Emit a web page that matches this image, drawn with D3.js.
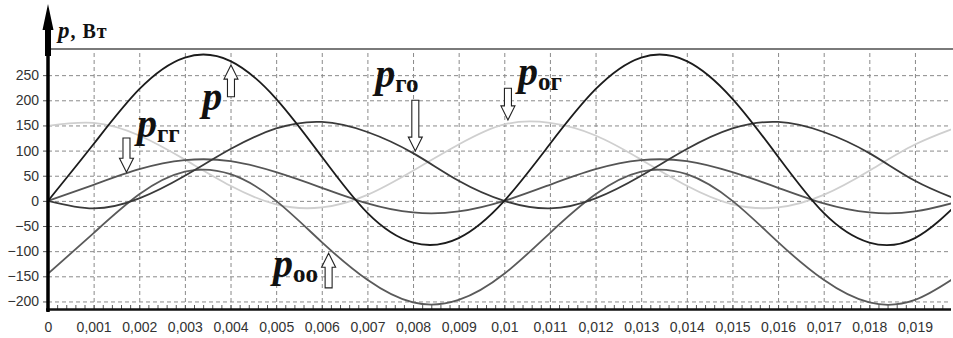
<!DOCTYPE html>
<html lang="ru">
<head>
<meta charset="UTF-8">
<title>p, Вт</title>
<script src="https://d3js.org/d3.v7.min.js"></script>
<style>
    body { margin: 0; background: #fff; }
    .grid line { stroke: #8a8a8a; stroke-width: 1; stroke-dasharray: 4,3; }
    .grid path { display: none; }
    .axis text { font-family: "Liberation Sans", Arial, sans-serif; font-size: 14px; fill: #333; }
    .axis path { display: none; }
    .axis line { stroke: #555; }
    .curve { fill: none; stroke-width: 1.8; }
    .ann { font-family: "Liberation Serif", "Times New Roman", serif; font-weight: bold; fill: #111; }
    .arrow { fill: #fff; stroke: #222; stroke-width: 1.1; }
</style>
</head>
<body>
<svg id="chart" width="953" height="338"></svg>
<script>
// time points, s
const times = [0, 0.001, 0.002, 0.003, 0.004, 0.005, 0.006, 0.007, 0.008, 0.009, 0.010,
               0.011, 0.012, 0.013, 0.014, 0.015, 0.016, 0.017, 0.018, 0.019, 0.020];

// power curves, W
const pVals   = [0, 113, 222, 285, 278, 203, 88, -24, -83, -74, 0, 113, 222, 285, 278, 203, 88, -24, -83, -74, 0];
const pGoVals = [0, -15, 5, 50, 103, 144, 157, 137, 95, 40, 0, -15, 5, 50, 103, 144, 157, 137, 95, 40, 0];
const pGgVals = [0, 32, 63, 81, 79, 57, 26, -5, -23, -21, 0, 32, 63, 81, 79, 57, 26, -5, -23, -21, 0];
const pOgVals = [149, 155, 130, 82, 30, -7, -13, 12, 60, 112, 152, 155, 130, 82, 30, -7, -13, 12, 60, 112, 149];
const pOoVals = [-145, -64, 13, 58, 53, 0, -82, -157, -202, -197, -145, -64, 13, 58, 53, 0, -82, -157, -202, -197, -145];

// axis ticks
const xTicks = [0, 0.001, 0.002, 0.003, 0.004, 0.005, 0.006, 0.007, 0.008, 0.009, 0.010,
                0.011, 0.012, 0.013, 0.014, 0.015, 0.016, 0.017, 0.018, 0.019];
const xTickLabels = ["0", "0,001", "0,002", "0,003", "0,004", "0,005", "0,006", "0,007", "0,008", "0,009", "0,01",
                     "0,011", "0,012", "0,013", "0,014", "0,015", "0,016", "0,017", "0,018", "0,019"];
const yTicks = [-200, -150, -100, -50, 0, 50, 100, 150, 200, 250];

// labels with arrows: text anchor and arrow (t, value)
const annotations = [
    {base: "p", sub: "",   tx: 0.00338, ty: 181, ax: 0.00401, tip: 270,  tail: 207},
    {base: "p", sub: "гг", tx: 0.00195, ty: 127, ax: 0.00172, tip: 57,   tail: 125},
    {base: "p", sub: "го", tx: 0.00717, ty: 226, ax: 0.00805, tip: 99,   tail: 200},
    {base: "p", sub: "ог", tx: 0.01030, ty: 230, ax: 0.01008, tip: 161,  tail: 224},
    {base: "p", sub: "оо", tx: 0.00493, ty: -151, ax: 0.00615, tip: -104, tail: -173}
];

const svg = d3.select("#chart");
const mLeft = 48, mRight = 951, mTop = 49, mBottom = 309;

const x = d3.scaleLinear().domain([0, 0.01979]).range([mLeft, mRight]);
const y = d3.scaleLinear().domain([-215, 302]).range([mBottom, mTop]);

svg.append("defs").append("clipPath").attr("id", "plotClip")
    .append("rect").attr("x", mLeft).attr("y", mTop).attr("width", mRight - mLeft).attr("height", mBottom - mTop);

// grid
svg.append("g").attr("class", "grid")
    .attr("transform", `translate(0,${mBottom})`)
    .call(d3.axisBottom(x).tickValues(xTicks.slice(1)).tickSize(-(mBottom - mTop)).tickFormat(""));
svg.append("g").attr("class", "grid")
    .attr("transform", `translate(${mLeft},0)`)
    .call(d3.axisLeft(y).tickValues(yTicks).tickSize(-(mRight - mLeft)).tickFormat(""));

// top border
svg.append("line").attr("x1", mLeft).attr("x2", 953).attr("y1", mTop).attr("y2", mTop)
    .attr("stroke", "#7a7a7a").attr("stroke-width", 2);

// curves
const series = [
    {vals: pOgVals, color: "#cfcfcf", w: 1.6},
    {vals: pOoVals, color: "#5a5a5a", w: 1.6},
    {vals: pGgVals, color: "#555555", w: 1.6},
    {vals: pGoVals, color: "#3a3a3a", w: 1.8},
    {vals: pVals,   color: "#1c1c1c", w: 1.8}
];
const line = d3.line().x(d => x(d[0])).y(d => y(d[1])).curve(d3.curveNatural);
const plot = svg.append("g").attr("clip-path", "url(#plotClip)");
series.forEach(s => {
    plot.append("path")
        .attr("class", "curve")
        .attr("stroke", s.color)
        .attr("stroke-width", s.w)
        .attr("d", line(times.map((t, i) => [t, s.vals[i]])));
});

// x axis: minor ticks, line, labels
svg.append("g").attr("class", "axis")
    .attr("transform", `translate(0,${mBottom})`)
    .call(d3.axisBottom(x).tickValues(d3.range(0, 0.0198, 0.0002)).tickSize(-4).tickFormat(""));
svg.append("line").attr("x1", mLeft - 2).attr("x2", mRight).attr("y1", mBottom + 0.5).attr("y2", mBottom + 0.5)
    .attr("stroke", "#111").attr("stroke-width", 2.5);
svg.append("g").attr("class", "axis")
    .attr("transform", `translate(0,${mBottom})`)
    .call(d3.axisBottom(x).tickValues(xTicks).tickSize(0).tickPadding(13)
        .tickFormat((d, i) => xTickLabels[i]));

// y axis
svg.append("g").attr("class", "axis")
    .attr("transform", `translate(${mLeft},0)`)
    .call(d3.axisLeft(y).tickValues(yTicks).tickSize(5).tickPadding(4));
svg.append("line").attr("x1", mLeft).attr("x2", mLeft).attr("y1", 40).attr("y2", mBottom + 3)
    .attr("stroke", "#000").attr("stroke-width", 3.5);
svg.append("path")
    .attr("d", `M${mLeft},4 L${mLeft - 5.5},30 L${mLeft - 3},30 L${mLeft - 3},56 L${mLeft + 3},56 L${mLeft + 3},30 L${mLeft + 5.5},30 Z`)
    .attr("fill", "#000");

// axis title
const title = svg.append("text").attr("class", "ann").attr("x", 58).attr("y", 38).attr("letter-spacing", 1);
title.append("tspan").attr("font-style", "italic").attr("font-size", 23).text("p");
title.append("tspan").attr("font-size", 20).text(", Вт");

// annotations
function arrowPath(cx, yTip, yTail) {
    const dir = yTail > yTip ? 1 : -1;
    const head = 14, hw = 7, sw = 3.5;
    const yb = yTip + dir * head;
    return `M${cx},${yTip} L${cx + hw},${yb} L${cx + sw},${yb} L${cx + sw},${yTail} ` +
           `L${cx - sw},${yTail} L${cx - sw},${yb} L${cx - hw},${yb} Z`;
}
annotations.forEach(a => {
    const t = svg.append("text").attr("class", "ann").attr("x", x(a.tx)).attr("y", y(a.ty));
    t.append("tspan").attr("font-style", "italic").attr("font-size", 40).text(a.base);
    if (a.sub) t.append("tspan").attr("font-size", 25).attr("dy", 5).text(a.sub);
    svg.append("path").attr("class", "arrow").attr("d", arrowPath(x(a.ax), y(a.tip), y(a.tail)));
});
</script>
</body>
</html>
